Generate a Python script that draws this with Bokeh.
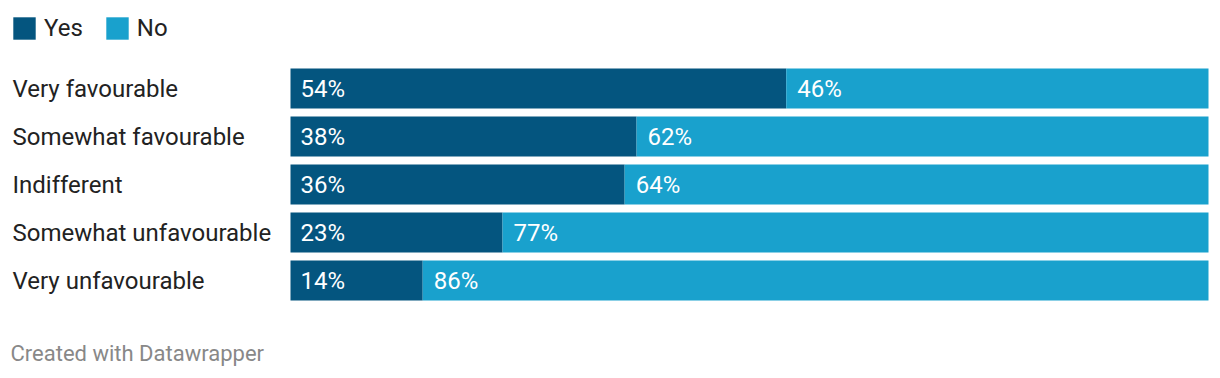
import numpy as np
from bokeh.plotting import figure
from bokeh.models import Range1d, Legend, LegendItem, Label, ColumnDataSource
from bokeh.core.properties import value
from bokeh.embed import file_html
from bokeh.resources import INLINE

categories = ["Very favourable", "Somewhat favourable", "Indifferent",
              "Somewhat unfavourable", "Very unfavourable"]
yes_vals = [54.0, 37.7, 36.4, 23.1, 14.4]
no_vals = [46.0, 62.3, 63.6, 76.9, 85.6]
series_names = ["Yes", "No"]
colors = ["#04557f", "#19a1cd"]

W, H = 1212, 370
bar_left_px, bar_right_px = 290, 1208
ppu = (bar_right_px - bar_left_px) / 100.0
x_start = -bar_left_px / ppu
x_end = 100 + (W - bar_right_px) / ppu
row_px = 48
first_center = 88
y_top = -first_center / row_px
y_bottom = (H - first_center) / row_px

idx = np.arange(len(categories))
yes = np.array(yes_vals)
no = np.array(no_vals)
src = ColumnDataSource(dict(
    y=idx, cat=categories, yes=yes, total=yes + no,
    yes_lbl=[f"{round(v)}%" for v in yes_vals],
    no_lbl=[f"{round(v)}%" for v in no_vals],
    zero=np.zeros(len(idx)), start=np.full(len(idx), x_start),
))

p = figure(width=W, height=H, output_backend="svg", toolbar_location=None,
           x_range=Range1d(x_start, x_end), y_range=Range1d(y_bottom, y_top),
           min_border=0, outline_line_color=None)
p.axis.visible = False
p.grid.visible = False
p.background_fill_color = "white"
p.border_fill_color = "white"

bh = 40 / row_px
r_yes = p.hbar(y="y", left="zero", right="yes", height=bh, source=src,
               fill_color=colors[0], line_color=None)
r_no = p.hbar(y="y", left="yes", right="total", height=bh, source=src,
              fill_color=colors[1], line_color=None)

font = value("Roboto")
p.text(x="start", y="y", text="cat", source=src, x_offset=12,
       text_font=font, text_font_size="24px", text_color="#222222",
       text_baseline="middle", text_align="left")
p.text(x="zero", y="y", text="yes_lbl", source=src, x_offset=10,
       text_font=font, text_font_size="24px", text_color="white",
       text_baseline="middle", text_align="left")
p.text(x="yes", y="y", text="no_lbl", source=src, x_offset=11,
       text_font=font, text_font_size="24px", text_color="white",
       text_baseline="middle", text_align="left")

legend = Legend(items=[LegendItem(label=series_names[0], renderers=[r_yes]),
                       LegendItem(label=series_names[1], renderers=[r_no])],
                orientation="horizontal", location=(10, H - 14 - 28),
                glyph_width=28, glyph_height=28, label_standoff=6, spacing=20,
                padding=0, margin=0, label_text_font="Roboto",
                label_text_font_size="24px", label_text_color="#222222",
                background_fill_alpha=0, border_line_alpha=0)
p.add_layout(legend)

p.add_layout(Label(x=10, y=17, x_units="screen", y_units="screen",
                   text="Created with Datawrapper", text_font="Roboto",
                   text_font_size="22px", text_color="#888888",
                   text_baseline="middle", text_align="left"))

open("out.html", "w").write(file_html(p, INLINE))
